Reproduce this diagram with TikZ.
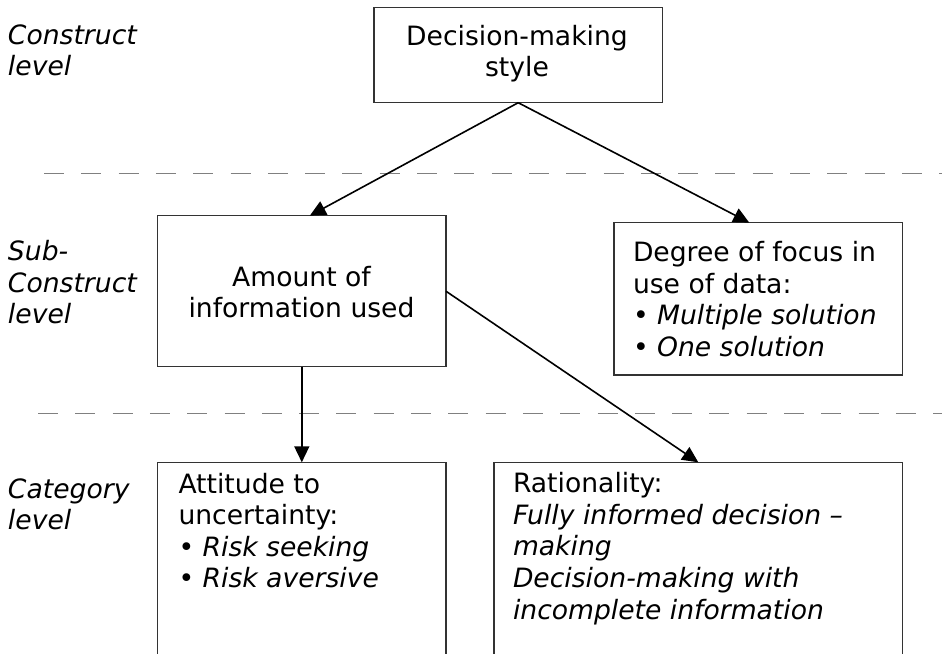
\documentclass[tikz,border=0pt]{standalone}
\usepackage{fontspec}
\setmainfont{DejaVu Sans}
\usetikzlibrary{arrows.meta}
% fixed-height strut so the top of a text block sits a known distance above its first baseline
\newcommand\lnstrut{\rule{0pt}{21pt}}
\begin{document}
\begin{tikzpicture}[x=1pt,y=-1pt,
  box/.style={draw=black!80, line width=1.3pt, inner sep=0pt, outer sep=0pt},
  txt/.style={inner sep=0pt, outer sep=0pt, text=black, font=\fontsize{26.6}{31.6}\selectfont},
  lbl/.style={txt, align=left, anchor=north west, font=\fontsize{26.6}{31.4}\selectfont\itshape},
  arr/.style={draw=black, line width=1.6pt, -{Triangle[length=16pt,width=15pt]}},
  levelline/.style={draw=black!50, line width=1.5pt, dash pattern=on 20pt off 17.3pt}]
\useasboundingbox (0,0) rectangle (942,653);
\clip (0,0) rectangle (942,653);

% level separators
\coordinate (sepAL) at (44,173.3);   \coordinate (sepAR) at (942,173.3);
\coordinate (sepBL) at (38,413.3);   \coordinate (sepBR) at (942,413.3);
\draw[levelline] (sepAL) -- (sepAR);
\draw[levelline] (sepBL) -- (sepBR);

% level labels
\node[lbl] (lvlconstruct) at (8,23.3)  {\lnstrut Construct\\level};
\node[lbl] (lvlsub)       at (8,239.7) {\lnstrut Sub-\\Construct\\level};
\node[lbl] (lvlcategory)  at (8,477)   {\lnstrut Category\\level};

% boxes
\node[box, minimum width=288.3pt, minimum height=95.4pt]  (style)    at (518.2,55)    {};
\node[box, minimum width=288.3pt, minimum height=151pt]   (amount)   at (301.8,291.2) {};
\node[box, minimum width=288.7pt, minimum height=152.3pt] (focus)    at (758.3,298.8) {};
\node[box, minimum width=288.3pt, minimum height=240pt]   (attitude) at (301.8,582.3) {};
\node[box, minimum width=408.7pt, minimum height=240pt]   (ration)   at (698.3,582.3) {};

% box texts
\node[txt, anchor=north, align=center] (styletext) at (517,24)
  {\lnstrut Decision-making\\style};
\node[txt, anchor=north, align=center] (amounttext) at (301.5,265)
  {\lnstrut Amount of\\information used};
\node[txt, anchor=north west, align=left] (focustext) at (633,240.7)
  {\lnstrut Degree of focus in\\use of data:\\• \textit{Multiple solution}\\• \textit{One solution}};
\node[txt, anchor=north west, align=left] (attitudetext) at (178.5,472)
  {\lnstrut Attitude to\\uncertainty:\\• \textit{Risk seeking}\\• \textit{Risk aversive}};
\node[txt, anchor=north west, align=left] (rationtext) at (513,471.7)
  {\lnstrut Rationality:\\\textit{Fully informed decision –}\\\textit{making}\\\textit{Decision-making with}\\\textit{incomplete information}};

% connectors
\draw[arr] (style.south) -- ([xshift=8pt]amount.north);
\draw[arr] (style.south) -- ([xshift=-9pt]focus.north);
\draw[arr] (amount.south) -- (attitude.north);
\draw[arr] (amount.east) -- (ration.north);
\end{tikzpicture}
\end{document}
